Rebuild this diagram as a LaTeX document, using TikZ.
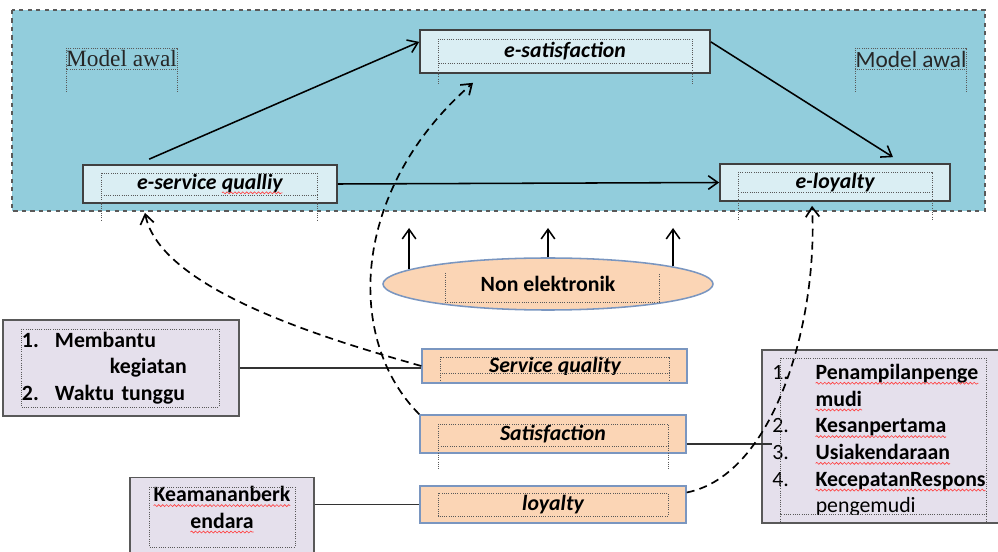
\documentclass[tikz,border=0pt]{standalone}
\usepackage{fontspec}
\setmainfont{Carlito}
\newfontfamily\serifawal{Liberation Serif}
\usetikzlibrary{arrows.meta,shapes.geometric,decorations.pathmorphing}
\definecolor{modelblue}{RGB}{146,205,220}
\definecolor{eblue}{RGB}{218,238,243}
\definecolor{peach}{RGB}{251,213,181}
\definecolor{lilac}{RGB}{229,224,236}
\definecolor{steel}{RGB}{122,150,192}
% red wavy spell-check underline
\newcommand\typo[1]{\tikz[baseline=(w.base)]{\node[shape=rectangle,inner sep=0pt,outer sep=0pt,minimum size=0pt,draw=none,fill=none] (w) {#1};
  \draw[red!75,line width=0.45pt,decorate,decoration={snake,amplitude=0.7pt,segment length=2.8pt}]
    ([yshift=-2.6pt]w.base west) -- ([yshift=-2.6pt]w.base east);}}

\begin{document}
\begin{tikzpicture}[x=0.25mm,y=-0.25mm,>={Straight Barb[length=2.4mm,width=3.4mm]},
  font=\fontsize{15.5}{18.8}\selectfont\bfseries, line width=1.1pt,
  ebox/.style={draw=black!75,fill=eblue,inner sep=0pt,line width=1.2pt},
  obox/.style={draw=steel,fill=peach,inner sep=0pt,line width=1pt},
  lbox/.style={draw=black!65,fill=lilac,inner sep=0pt,line width=1.2pt},
  frame/.style={densely dotted,black!65,line width=0.6pt},
  link/.style={->,line width=1.2pt,dash pattern=on 2mm off 1.3mm},
  tie/.style={line width=0.9pt,black!80}]
  \useasboundingbox (0,0) rectangle (998,552);
  \clip (0,0) rectangle (998,552);
  % model awal
  \draw[dashed,black!65,line width=0.9pt,fill=modelblue] (12,10) rectangle (985,211);
  \node[black!85] (awal1) at (121.5,59) {\fontsize{16.6}{20}\selectfont\serifawal\mdseries Model awal};
  \node[black!85] (awal2) at (911,59) {\fontsize{16.6}{20}\selectfont\mdseries Model awal};
  \draw[frame] (66,48) rectangle (177,69); \draw[frame] (66,69)--(66,93) (177,69)--(177,93);
  \draw[frame] (855,48) rectangle (966,69); \draw[frame] (855,69)--(855,93) (966,69)--(966,93);
  \node[ebox,minimum width=72.5mm,minimum height=10.75mm] (esat) at (565,51.5) {\itshape e-satisfaction};
  \node[ebox,minimum width=63.5mm,minimum height=9.5mm] (eserv) at (210,184) {\itshape e-service \typo{qualliy}};
  \node[ebox,minimum width=57.5mm,minimum height=9.25mm] (eloy) at (835,182.5) {\itshape e-loyalty};
  \draw[frame] (438,39) rectangle (692,63); \draw[frame] (438,63)--(438,85) (692,63)--(692,85);
  \draw[frame] (101,173) rectangle (317,195); \draw[frame] (101,195)--(101,221) (317,195)--(317,221);
  \draw[frame] (738,172) rectangle (932,192); \draw[frame] (738,192)--(738,220) (932,192)--(932,220);
  \draw[->] ([xshift=16.75mm,yshift=1.25mm]eserv.north west) -- ([yshift=2.4mm]esat.west);
  \draw[->] ([yshift=2.4mm]esat.east) -- ([xshift=14.5mm,yshift=1.5mm]eloy.north);
  \draw[->] (eserv.east) -- (eloy.west);
  % non elektronik
  \node[ellipse,draw=steel,fill=peach,minimum width=82.5mm,minimum height=13mm,inner sep=0pt] (nonel) at (548,284) {Non elektronik};
  \draw[frame] (445,273)--(445,302)--(659,302)--(659,273);
  \coordinate (uptop) at (0,228);
  \foreach \a in {174,90,8} \draw[->] (nonel.\a) -- (nonel.\a |- uptop);
  % indikator
  \node[obox,minimum width=66.25mm,minimum height=8.5mm] (sq) at (554.5,366) {};
  \begin{scope}
    \clip (0,0) rectangle (998,374);
    \node[anchor=base] (sqtext) at (555,373) {\itshape Service quality};
  \end{scope}
  \node[obox,minimum width=66.5mm,minimum height=9.5mm] (sat) at (553,434) {\itshape Satisfaction};
  \node[obox,minimum width=66.5mm,minimum height=9.25mm] (loy) at (553,504.5) {\itshape loyalty};
  \draw[frame] (440,357) rectangle (669,373); \draw[frame] (440,373)--(440,380) (669,373)--(669,380);
  \draw[frame] (438,424) rectangle (668,446); \draw[frame] (438,446)--(438,470) (668,446)--(668,470);
  \draw[frame] (438,493) rectangle (668,516);
  \node[lbox,minimum width=59mm,minimum height=24mm,text width=49.5mm,align=left] (mb) at (121,368)
    {\makebox[8.25mm][l]{1.}Membantu\\\hspace*{22mm}kegiatan\\\makebox[8.25mm][l]{2.}Waktu tunggu};
  \draw[frame] (21,329) rectangle (219,407);
  \node[lbox,minimum width=46mm,minimum height=20.5mm] (kb) at (222,518.5) {};
  \node[align=center] (kbtext) at (222,510) {\typo{Keamananberk}\\\typo{endara}};
  \draw[frame] (149,487) rectangle (295,547);
  \node[lbox,minimum width=61.5mm,minimum height=43.25mm] (pb) at (885,436.5) {};
  \node[anchor=north west,align=left,inner sep=0pt,font=\fontsize{15.5}{19}\selectfont\bfseries] (pbtext) at (772,364)
    {\makebox[10.75mm][l]{\mdseries 1.}\typo{Penampilanpenge}\\\hspace*{10.75mm}\typo{mudi}\\
     \makebox[10.75mm][l]{\mdseries 2.}\typo{Kesanpertama}\\\makebox[10.75mm][l]{\mdseries 3.}\typo{Usiakendaraan}\\
     \makebox[10.75mm][l]{\mdseries 4.}\typo{KecepatanRespons}};
  \begin{scope}
    \clip (0,0) rectangle (998,514);
    \node[anchor=base west,inner sep=0pt] (pbmore) at (815,512) {\mdseries pengemudi};
  \end{scope}
  \draw[frame] (780,358) rectangle (986,514); \draw[frame] (780,514)--(780,523) (986,514)--(986,523);
  \draw[tie] (mb.east) -- (mb.east -| sq.west);
  \draw[tie] (loy.west -| kb.east) -- (loy.west);
  \coordinate (satout) at ([yshift=-2.5mm]sat.east);
  \draw[tie] (satout) -- (satout -| pbtext.west);
  % pengaruh
  \draw[link] (sq.west) .. controls (330,340) and (160,290) .. ([xshift=-16.25mm,yshift=-2.25mm]eserv.south);
  \draw[link] (sat.north west) .. controls (345,340) and (350,190) .. ([xshift=-23mm,yshift=-2.25mm]esat.south);
  \draw[link] ([yshift=3mm]loy.east) .. controls (775,475) and (818,320) .. ([xshift=-5.75mm,yshift=-1mm]eloy.south);
\end{tikzpicture}
\end{document}
